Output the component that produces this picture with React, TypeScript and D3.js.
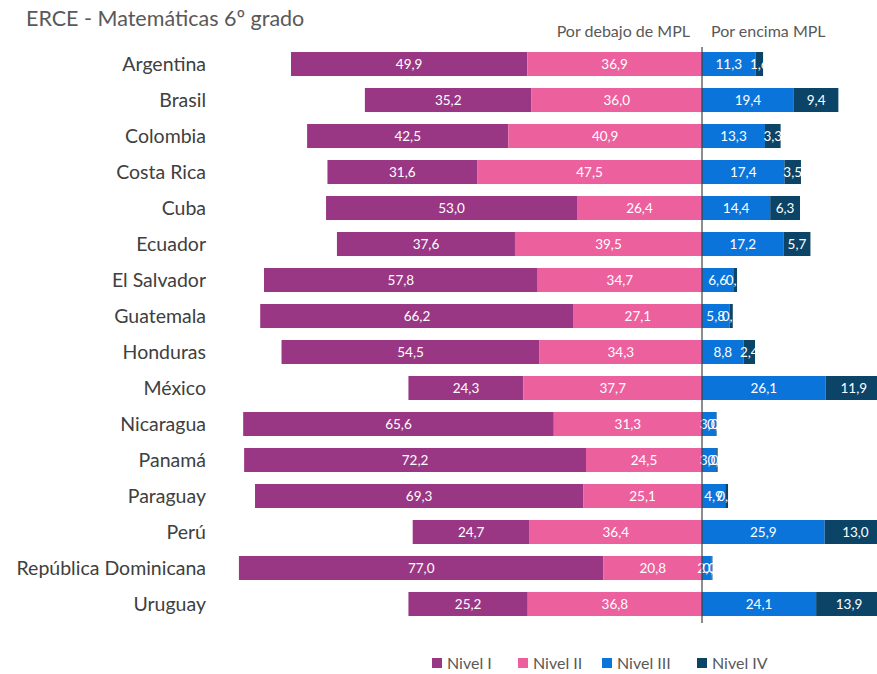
import React, { useEffect, useRef } from 'react';
import * as d3 from 'd3';

const countries = [
  'Argentina', 'Brasil', 'Colombia', 'Costa Rica', 'Cuba', 'Ecuador', 'El Salvador',
  'Guatemala', 'Honduras', 'México', 'Nicaragua', 'Panamá', 'Paraguay', 'Perú',
  'República Dominicana', 'Uruguay',
];
const nivel1 = [49.9, 35.2, 42.5, 31.6, 53.0, 37.6, 57.8, 66.2, 54.5, 24.3, 65.6, 72.2, 69.3, 24.7, 77.0, 25.2];
const nivel2 = [36.9, 36.0, 40.9, 47.5, 26.4, 39.5, 34.7, 27.1, 34.3, 37.7, 31.3, 24.5, 25.1, 36.4, 20.8, 36.8];
const nivel3 = [11.3, 19.4, 13.3, 17.4, 14.4, 17.2, 6.6, 5.8, 8.8, 26.1, 3.0, 3.0, 4.9, 25.9, 2.0, 24.1];
const nivel4 = [1.6, 9.4, 3.3, 3.5, 6.3, 5.7, 0.8, 0.7, 2.4, 11.9, 0.1, 0.3, 0.6, 13.0, 0.2, 13.9];
const levels = ['Nivel I', 'Nivel II', 'Nivel III', 'Nivel IV'];
const colors = ['#9a3784', '#ec609e', '#0b74da', '#0c4468'];

const font = 'Lato, "Open Sans", sans-serif';

export default function App() {
  const ref = useRef<SVGSVGElement>(null);

  useEffect(() => {
    const svg = d3.select(ref.current);
    svg.selectAll('*').remove();

    const fmt = (v: number) => v.toFixed(1).replace('.', ',');

    const x = d3.scaleLinear().domain([-100, 40]).range([702 - 473.5, 702 + 189.4]);
    const y = d3.scaleBand().domain(countries).range([46, 622]).paddingInner(0.333).paddingOuter(0.167);

    // title
    svg.append('text')
      .attr('x', 26).attr('y', 26)
      .text('ERCE - Matemáticas 6º grado')
      .style('font-family', font).style('font-size', '21.5px').style('fill', '#595959');

    svg.append('text').attr('x', 690).attr('y', 37).attr('text-anchor', 'end')
      .text('Por debajo de MPL')
      .style('font-family', font).style('font-size', '16px').style('fill', '#595959');
    svg.append('text').attr('x', 711).attr('y', 37)
      .text('Por encima MPL')
      .style('font-family', font).style('font-size', '16px').style('fill', '#595959');

    const rows = countries.map((c, i) => ({ c, v: [nivel1[i], nivel2[i], nivel3[i], nivel4[i]] }));

    const segs: { c: string; k: number; x0: number; x1: number; v: number }[] = [];
    rows.forEach(r => {
      // below MPL: Nivel II next to zero, Nivel I further left
      segs.push({ c: r.c, k: 0, x0: -(r.v[0] + r.v[1]), x1: -r.v[1], v: r.v[0] });
      segs.push({ c: r.c, k: 1, x0: -r.v[1], x1: 0, v: r.v[1] });
      segs.push({ c: r.c, k: 2, x0: 0, x1: r.v[2], v: r.v[2] });
      segs.push({ c: r.c, k: 3, x0: r.v[2], x1: r.v[2] + r.v[3], v: r.v[3] });
    });

    svg.append('g').selectAll('rect')
      .data(segs)
      .enter()
      .append('rect')
      .attr('x', d => x(d.x0))
      .attr('y', d => y(d.c)!)
      .attr('width', d => x(d.x1) - x(d.x0))
      .attr('height', y.bandwidth())
      .attr('fill', d => colors[d.k]);

    svg.append('g').selectAll('text')
      .data(segs)
      .enter()
      .append('text')
      .attr('x', d => (x(d.x0) + x(d.x1)) / 2)
      .attr('y', d => y(d.c)! + y.bandwidth() / 2 + 5)
      .attr('text-anchor', 'middle')
      .text(d => fmt(d.v))
      .style('font-family', font).style('font-size', '13.5px').style('fill', '#ffffff');

    // country labels
    svg.append('g').selectAll('text')
      .data(countries)
      .enter()
      .append('text')
      .attr('x', 206)
      .attr('y', d => y(d)! + y.bandwidth() / 2 + 7)
      .attr('text-anchor', 'end')
      .text(d => d)
      .style('font-family', font).style('font-size', '19.5px').style('fill', '#404040');

    // zero line
    svg.append('line')
      .attr('x1', x(0)).attr('x2', x(0))
      .attr('y1', 47).attr('y2', 623)
      .attr('stroke', '#404040').attr('stroke-width', 1.2);

    // legend
    const legendX = [432, 518, 602, 697];
    const lg = svg.append('g').selectAll('g')
      .data(levels)
      .enter()
      .append('g')
      .attr('transform', (d, i) => `translate(${legendX[i]},663)`);
    lg.append('rect').attr('x', 0).attr('y', -5).attr('width', 10).attr('height', 10)
      .attr('fill', (d, i) => colors[i]);
    lg.append('text').attr('x', 15).attr('y', 5.5).text(d => d)
      .style('font-family', font).style('font-size', '16px').style('fill', '#595959');
  }, []);

  return (
    <div style={{ position: 'absolute', left: 0, top: 0 }}>
      <svg ref={ref} width={877} height={674} style={{ display: 'block', background: '#fff' }} />
    </div>
  );
}
